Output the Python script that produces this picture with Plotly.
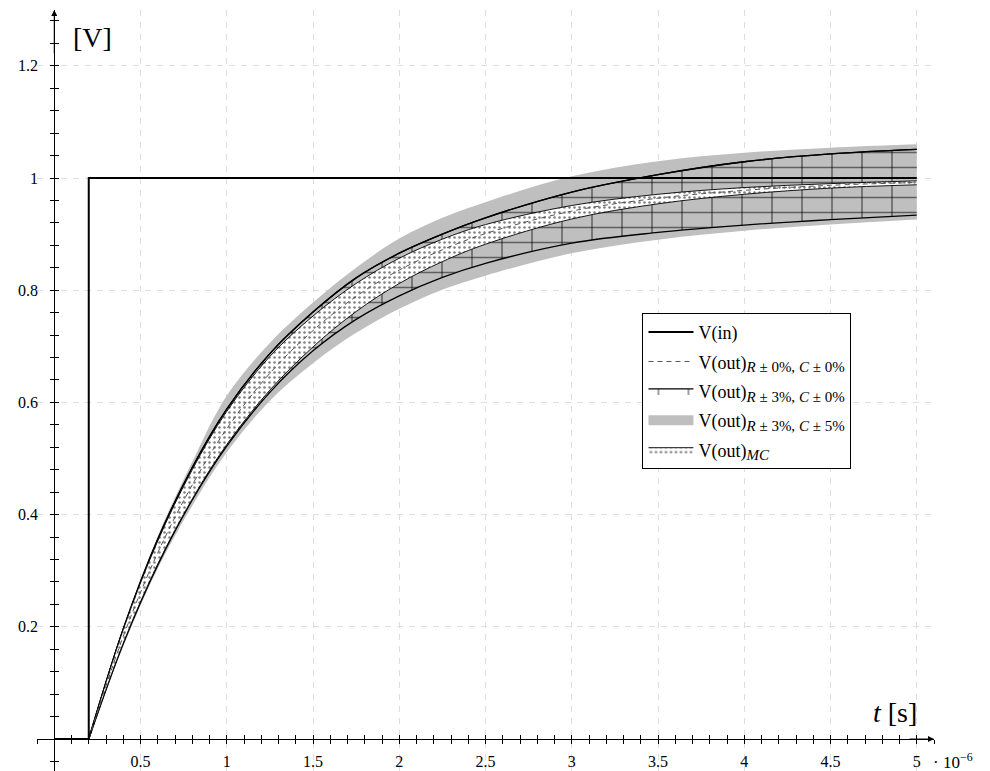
import plotly.graph_objects as go

# ---------------- data (time in microseconds, voltage in V) ----------------
t_in = [0.0, 0.2, 0.2, 5.0]
v_in = [0.0, 0.0, 1.0, 1.0]

t_out = [0.2, 0.4, 0.6, 0.8, 1.0, 1.25, 1.5, 1.75, 2.0, 2.25, 2.5, 3.0, 3.5, 4.0, 4.5, 5.0]

v_nom = [0, 0.183, 0.332, 0.453, 0.553, 0.652, 0.728, 0.789, 0.836, 0.872, 0.901, 0.941, 0.964, 0.978, 0.987, 0.992]

mc_hi = [0, 0.195, 0.353, 0.480, 0.584, 0.682, 0.754, 0.812, 0.857, 0.891, 0.917, 0.951, 0.971, 0.983, 0.990, 0.995]
mc_lo = [0, 0.171, 0.312, 0.428, 0.525, 0.622, 0.699, 0.762, 0.812, 0.851, 0.882, 0.927, 0.954, 0.971, 0.982, 0.988]

r3_hi = [0, 0.196, 0.356, 0.484, 0.588, 0.687, 0.761, 0.822, 0.866, 0.900, 0.929, 0.975, 1.006, 1.029, 1.043, 1.051]
r3_lo = [0, 0.170, 0.310, 0.426, 0.522, 0.618, 0.692, 0.748, 0.790, 0.823, 0.848, 0.884, 0.903, 0.916, 0.926, 0.934]

r3c5_hi = [0, 0.200, 0.362, 0.494, 0.612, 0.706, 0.778, 0.840, 0.892, 0.929, 0.957, 1.003, 1.030, 1.045, 1.054, 1.060]
r3c5_lo = [0, 0.165, 0.304, 0.416, 0.511, 0.603, 0.670, 0.724, 0.767, 0.801, 0.826, 0.866, 0.890, 0.906, 0.917, 0.926]

x_ticks = [0.5, 1, 1.5, 2, 2.5, 3, 3.5, 4, 4.5, 5]
x_tick_labels = ["0.5", "1", "1.5", "2", "2.5", "3", "3.5", "4", "4.5", "5"]
y_ticks = [0.2, 0.4, 0.6, 0.8, 1.0, 1.2]
y_tick_labels = ["0.2", "0.4", "0.6", "0.8", "1", "1.2"]

SUB = '<sub><span style="font-size:15px">{}</span></sub>'
names = {
    "in": "V(in)",
    "nom": "V(out)" + SUB.format("<i>R</i> ± 0%, <i>C</i> ± 0%"),
    "r3": "V(out)" + SUB.format("<i>R</i> ± 3%, <i>C</i> ± 0%"),
    "r3c5": "V(out)" + SUB.format("<i>R</i> ± 3%, <i>C</i> ± 5%"),
    "mc": "V(out)" + SUB.format("<i>MC</i>"),
}

SERIF = "Liberation Serif, DejaVu Serif, serif"
GRAY = "#bfbfbf"

fig = go.Figure()

# gray band R±3%, C±5%
fig.add_trace(go.Scatter(x=t_out, y=r3c5_lo, mode="lines", line=dict(width=0, shape="spline"),
                         showlegend=False, hoverinfo="skip"))
fig.add_trace(go.Scatter(x=t_out, y=r3c5_hi, mode="lines", line=dict(width=0, shape="spline"),
                         fill="tonexty", fillcolor=GRAY, showlegend=False, hoverinfo="skip"))

# brick band R±3%, C±0%  (horizontal + vertical line patterns)
fig.add_trace(go.Scatter(x=t_out, y=r3_lo, mode="lines", line=dict(width=1.3, color="black", shape="spline"),
                         showlegend=False, hoverinfo="skip"))
fig.add_trace(go.Scatter(x=t_out, y=r3_hi, mode="lines", line=dict(width=1.3, color="black", shape="spline"),
                         fill="tonexty", fillcolor="rgba(0,0,0,0)",
                         fillpattern=dict(shape="-", size=15, solidity=0.1, fgcolor="black",
                                          bgcolor="rgba(0,0,0,0)"),
                         showlegend=False, hoverinfo="skip"))
fig.add_trace(go.Scatter(x=t_out, y=r3_lo, mode="lines", line=dict(width=0, shape="spline"),
                         showlegend=False, hoverinfo="skip"))
fig.add_trace(go.Scatter(x=t_out, y=r3_hi, mode="lines", line=dict(width=1.3, color="black", shape="spline"),
                         fill="tonexty", fillcolor="rgba(0,0,0,0)",
                         fillpattern=dict(shape="|", size=30, solidity=0.05, fgcolor="black",
                                          bgcolor="rgba(0,0,0,0)"),
                         name=names["r3"], legendrank=3, legendgroup="g3"))

# Monte Carlo band
fig.add_trace(go.Scatter(x=t_out, y=mc_lo, mode="lines", line=dict(width=0.9, color="black", shape="spline"),
                         showlegend=False, hoverinfo="skip"))
fig.add_trace(go.Scatter(x=t_out, y=mc_hi, mode="lines", line=dict(width=0.9, color="black", shape="spline"),
                         fill="tonexty", fillcolor="white",
                         fillpattern=dict(shape=".", size=5, solidity=0.2, fgcolor="black", bgcolor="white"),
                         name=names["mc"], legendrank=5, legendgroup="g5"))

# nominal output
fig.add_trace(go.Scatter(x=t_out, y=v_nom, mode="lines",
                         line=dict(width=1, color="#555555", dash="5px,4px", shape="spline"),
                         name=names["nom"], legendrank=2, legendgroup="g2"))

# input step
fig.add_trace(go.Scatter(x=t_in, y=v_in, mode="lines", line=dict(width=2, color="black"),
                         name=names["in"], legendrank=1, legendgroup="g1"))

# legend swatch for the gray band (no data drawn)
fig.add_trace(go.Scatter(x=[None], y=[None], mode="lines", line=dict(width=14, color=GRAY),
                         name=names["r3c5"], legendrank=4, legendgroup="g4", hoverinfo="skip"))

# dummy trace to hold the overlay axes (crossing ticks)
fig.add_trace(go.Scatter(x=[None], y=[None], xaxis="x2", yaxis="y2", showlegend=False, hoverinfo="skip"))

x_range = [-0.1, 5.1]
y_range = [-0.057, 1.2995]
x_pos = (0 - y_range[0]) / (y_range[1] - y_range[0])
y_pos = (0 - x_range[0]) / (x_range[1] - x_range[0])

tickfont = dict(family=SERIF, size=16, color="black")
tick_common = dict(ticklen=4, tickwidth=0.8, tickcolor="black")

fig.update_layout(
    width=990, height=771,
    margin=dict(l=37, r=55.5, t=10, b=0, pad=0),
    plot_bgcolor="white", paper_bgcolor="white",
    font=dict(family=SERIF, color="black"),
    xaxis=dict(range=x_range, anchor="free", position=x_pos,
               showline=True, linecolor="black", linewidth=1,
               ticks="outside", **tick_common,
               tickmode="array", tickvals=x_ticks, ticktext=x_tick_labels, tickfont=tickfont,
               ticklabelstandoff=4,
               showgrid=True, gridcolor="#dedede", gridwidth=1, griddash="6px,6px",
               minor=dict(tickmode="linear", tick0=0, dtick=0.1, ticks="outside", showgrid=False,
                          **tick_common),
               zeroline=False),
    yaxis=dict(range=y_range, anchor="free", position=y_pos,
               showline=True, linecolor="black", linewidth=1,
               ticks="outside", **tick_common,
               tickmode="array", tickvals=y_ticks, ticktext=y_tick_labels, tickfont=tickfont,
               ticklabelstandoff=9,
               showgrid=True, gridcolor="#dedede", gridwidth=1, griddash="6px,6px",
               minor=dict(tickmode="linear", tick0=0, dtick=0.04, ticks="outside", showgrid=False,
                          **tick_common),
               zeroline=False),
    xaxis2=dict(range=x_range, overlaying="x", anchor="free", position=x_pos,
                showline=False, showgrid=False, zeroline=False, showticklabels=False,
                ticks="inside", **tick_common, tickmode="array", tickvals=x_ticks,
                minor=dict(tickmode="linear", tick0=0, dtick=0.1, ticks="inside", showgrid=False,
                           **tick_common)),
    yaxis2=dict(range=y_range, overlaying="y", anchor="free", position=y_pos,
                showline=False, showgrid=False, zeroline=False, showticklabels=False,
                ticks="inside", **tick_common, tickmode="array", tickvals=y_ticks,
                minor=dict(tickmode="linear", tick0=0, dtick=0.04, ticks="inside", showgrid=False,
                           **tick_common)),
    legend=dict(x=0.675, y=0.602, xanchor="left", yanchor="top",
                bgcolor="white", bordercolor="black", borderwidth=1,
                font=dict(family=SERIF, size=18, color="black"),
                itemwidth=45, traceorder="grouped", tracegroupgap=3),
    showlegend=True,
    annotations=[
        dict(text="[V]", xref="paper", yref="paper", x=0.0624, y=0.9645,
             xanchor="center", yanchor="middle", showarrow=False,
             font=dict(family=SERIF, size=28, color="black")),
        dict(text="<i>t</i> [s]", xref="paper", yref="paper", x=0.957, y=0.0775,
             xanchor="center", yanchor="middle", showarrow=False,
             font=dict(family=SERIF, size=28, color="black")),
        dict(text="· 10<sup>−6</sup>", xref="paper", yref="paper", x=0.997, y=0.013,
             xanchor="left", yanchor="middle", showarrow=False,
             font=dict(family=SERIF, size=17, color="black")),
        dict(text="", x=x_range[1], y=0, ax=x_range[1] - 0.15, ay=0,
             xref="x", yref="y", axref="x", ayref="y",
             showarrow=True, arrowhead=2, arrowsize=1.2, arrowwidth=1, arrowcolor="black"),
        dict(text="", x=0, y=y_range[1], ax=0, ay=y_range[1] - 0.08,
             xref="x", yref="y", axref="x", ayref="y",
             showarrow=True, arrowhead=2, arrowsize=1.2, arrowwidth=1, arrowcolor="black"),
    ],
)

fig.write_html("out.html")
